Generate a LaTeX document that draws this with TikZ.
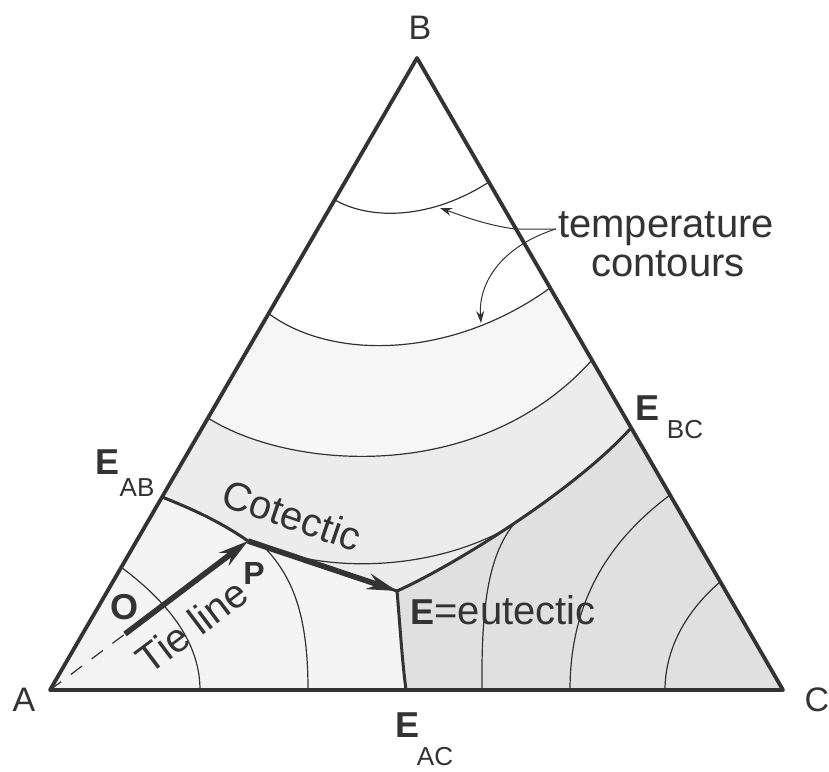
\documentclass[tikz,border=0pt]{standalone}
\usepackage{fontspec}
\setmainfont{Liberation Sans}
\usetikzlibrary{arrows.meta}
\definecolor{inkgray}{gray}{0.2}
\definecolor{bandB}{gray}{0.965}
\definecolor{fieldB}{gray}{0.925}
\definecolor{fieldA}{gray}{0.955}
\definecolor{fieldC}{gray}{0.88}

\begin{document}
\begin{tikzpicture}[x=0.5pt,y=-0.5pt,line join=round,
    every node/.style={text=inkgray,inner sep=1pt},
    vtx/.style={font=\fontsize{17}{19}\selectfont},
    bigE/.style={font=\fontsize{18}{20}\selectfont\bfseries},
    sublbl/.style={font=\fontsize{13}{15}\selectfont},
    note/.style={font=\fontsize{20}{24}\selectfont},
    rim/.style={line width=1.9pt,draw=inkgray},
    cotectic/.style={line width=1.5pt,draw=inkgray},
    contour/.style={line width=0.6pt,draw=inkgray},
    pathto/.style={line width=2.8pt,draw=inkgray,-{Stealth[length=15pt,width=8pt,inset=5pt]}},
    leader/.style={line width=0.5pt,draw=inkgray,-{Stealth[length=6pt,width=4pt,inset=2pt]}}]
  \useasboundingbox (0,0) rectangle (829,771);
  \fill[white] (0,0) rectangle (829,771);
  \coordinate (A) at (50,690);
  \coordinate (B) at (417,58);
  \coordinate (C) at (783,690);
  \coordinate (Eab) at (162,497);
  \coordinate (Ebc) at (631,428);
  \coordinate (Eac) at (406,690);
  \coordinate (E) at (397,591);
  \coordinate (P) at (248,541);
  \coordinate (O) at (125,634);
  \coordinate (K) at (513,525);
  \fill[bandB] (268,313) .. controls (330,360) and (450,360) .. (550,288)
    -- (592,360) .. controls (480,485) and (290,470) .. (208,418) -- cycle;
  \fill[fieldB] (208,418) .. controls (290,470) and (480,485) .. (592,360)
    -- (Ebc) .. controls (575,490) and (455,565) .. (E) -- (P)
    .. controls (225,525) and (200,512) .. (Eab) -- cycle;
  \fill[fieldA] (A) -- (Eab) .. controls (200,512) and (225,525) .. (P) -- (E)
    .. controls (400,625) and (402,660) .. (Eac) -- cycle;
  \fill[fieldC] (E) .. controls (455,565) and (575,490) .. (Ebc) -- (C) -- (Eac)
    .. controls (402,660) and (400,625) .. (E) -- cycle;
  \foreach \s/\u/\v/\t in {{(335,200)/(370,220)/(430,220)/(489,182)},
      {(268,313)/(330,360)/(450,360)/(550,288)},
      {(208,418)/(290,470)/(480,485)/(592,360)},
      {(295,556)/(350,570)/(440,568)/(K)},
      {(121,567)/(165,600)/(200,640)/(200,690)},
      {(266,549)/(295,580)/(308,620)/(308,690)},
      {(K)/(490,555)/(481,600)/(482,690)},
      {(670,495)/(610,540)/(570,600)/(570,690)},
      {(720,582)/(685,612)/(665,650)/(665,690)}}{
    \draw[contour] \s .. controls \u and \v .. \t;
  }
  \draw[cotectic] (Eab) .. controls (200,512) and (225,525) .. (P) -- (E);
  \draw[cotectic] (E) .. controls (455,565) and (575,490) .. (Ebc);
  \draw[cotectic] (E) .. controls (400,625) and (402,660) .. (Eac);
  \draw[inkgray,line width=0.6pt,dash pattern=on 7pt off 6pt] (A) -- (O);
  \draw[pathto] (O) -- (P);
  \draw[pathto] (P) -- (E);
  \draw[rim] (A) -- (B) -- (C) -- cycle;
  \node[vtx] (lblA) at (24,700) {A};
  \node[vtx] (lblB) at (420,28) {B};
  \node[vtx] (lblC) at (817,700) {C};
  \node[bigE] (lblEab) at (108,462) {E};
  \node[sublbl] (subAB) at (137,488) {AB};
  \node[bigE] (lblEbc) at (647,408) {E};
  \node[sublbl] (subBC) at (685,430) {BC};
  \node[bigE] (lblEac) at (407,725) {E};
  \node[sublbl] (subAC) at (435,757) {AC};
  \node[bigE] (lblO) at (124,607) {O};
  \node[bigE,font=\fontsize{16}{18}\selectfont\bfseries] (lblP) at (254,573) {P};
  \node[note,rotate=-19] (cot) at (292,515) {Cotectic};
  \node[note,rotate=37] (tie) at (192,626) {Tie line};
  \node[note,anchor=west,inner sep=0pt] (eut) at (410,610) {\textbf{\fontsize{18}{20}\selectfont E}=eutectic};
  \node[note] (ttemp) at (666,229) {temperature};
  \node[note] (tcont) at (668,264) {contours};
  \draw[leader] (ttemp.west) -- (515,229) .. controls (485,225) and (460,215) .. (440,208);
  \draw[leader] (ttemp.west) .. controls (505,245) and (478,280) .. (481,323);
\end{tikzpicture}
\end{document}
